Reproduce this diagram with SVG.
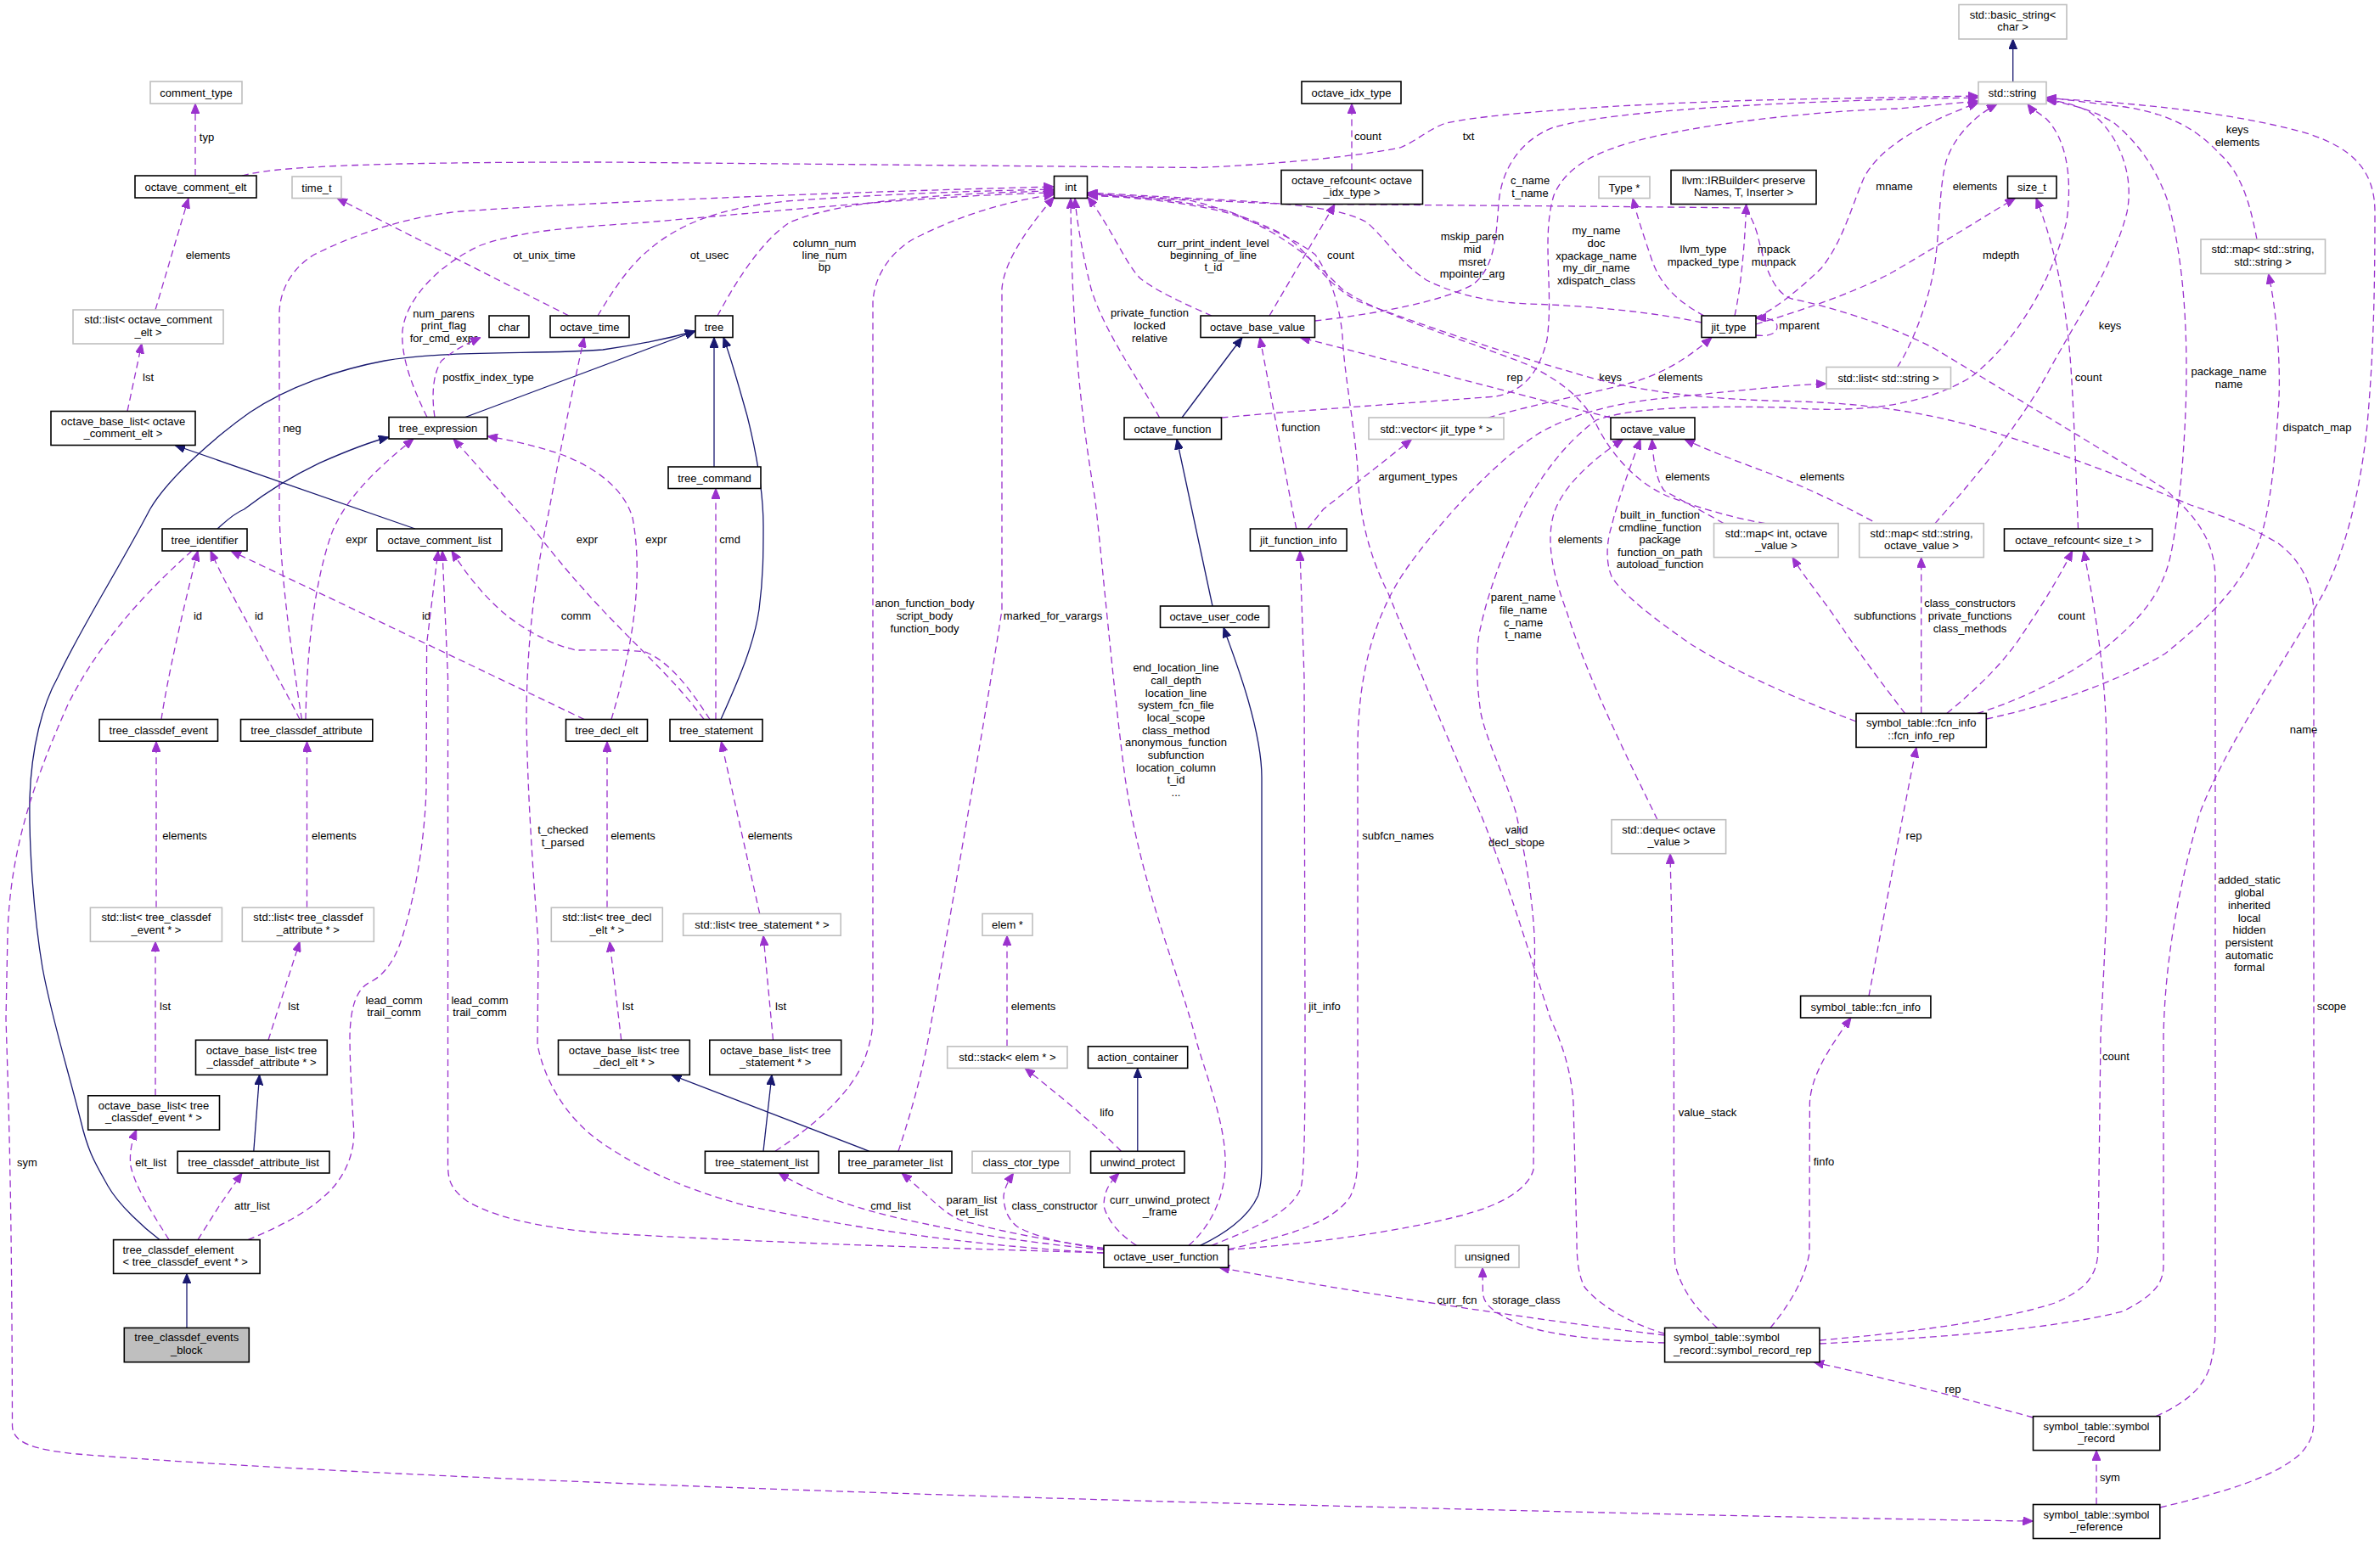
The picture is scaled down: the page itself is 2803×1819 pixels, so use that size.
<svg xmlns="http://www.w3.org/2000/svg" width="2803" height="1819" viewBox="0 0 2803 1819">
<style>
text{font-family:"Liberation Sans",Arial,sans-serif;font-size:13px;fill:#000}
.n rect{fill:#fff;stroke:#000;stroke-width:1.6}
.g rect{fill:#fff;stroke:#bfbfbf;stroke-width:1.6}
.n text,.g text{text-anchor:middle}
.lft text{text-anchor:start}
.d{fill:none;stroke:#9a32cd;stroke-width:1.3;stroke-dasharray:8,5;marker-end:url(#ap)}
.i{fill:none;stroke:#191970;stroke-width:1.3;marker-end:url(#ab)}
.l{text-anchor:middle}
</style>
<defs>
<marker id="ap" viewBox="0 0 12 10" refX="12" refY="5" markerWidth="12" markerHeight="10" markerUnits="userSpaceOnUse" orient="auto"><path d="M0,0 L12,5 L0,10 z" fill="#9a32cd" stroke="#9a32cd" stroke-width="1"/></marker>
<marker id="ab" viewBox="0 0 12 10" refX="12" refY="5" markerWidth="12" markerHeight="10" markerUnits="userSpaceOnUse" orient="auto"><path d="M0,0 L12,5 L0,10 z" fill="#191970" stroke="#191970" stroke-width="1"/></marker>
</defs>
<rect x="0" y="0" width="2803" height="1819" fill="#fff"/>
<g id="edges">
<!-- inheritance -->
<path class="i" d="M489,623 L206,524.5"/>
<path class="i" d="M548,491.5 L819,390"/>
<path class="i" d="M188,1460.6 C170,1447 140,1420 127,1397 C112,1370 104,1358 95,1320 C80,1260 61,1200 50,1140 C40,1080 34,1000 35,940 C37,880 50,830 68,798 C95,740 140,670 176.6,600 C200,560 260,510 294,486 C340,455 400,435 453,425 C530,412 640,418 710,412 C760,405 790,398 819,390"/>
<path class="i" d="M256,623 C265,615 275,605 287.5,600 C320,575 350,558 376,545.6 C400,535 430,522 458,515"/>
<path class="i" d="M841,550 L841,397.5"/>
<path class="i" d="M849,847.5 C870,800 888,760 894,718 C899,680 899,650 899,620 C899,580 890,530 880,490 C870,455 862,425 852,397.5"/>
<path class="i" d="M298.8,1356.3 L305.6,1266.3"/>
<path class="i" d="M220,1564.4 L220,1500.4"/>
<path class="i" d="M1392,492 L1463,397.5"/>
<path class="i" d="M1428,714 L1386,517.5"/>
<path class="i" d="M1413.6,1467.3 C1440,1455 1470,1435 1481.5,1409 C1486,1395 1486,1380 1486,1360 L1486,916 C1486,890 1480,860 1470,825 C1460,790 1450,765 1441,739.3"/>
<path class="i" d="M2370.7,96.5 L2370.7,46"/>
<path class="i" d="M1023.8,1356.3 L790.6,1266.3"/>
<path class="i" d="M899,1356.3 L909,1266.3"/>
<path class="i" d="M1339.8,1356.3 L1339.8,1258.4"/>
<!-- usage -->
<path class="d" d="M230,207 L230,122"/>
<text class="l" x="243.5" y="165.5">typ</text>
<path class="d" d="M285,207 C320,197 420,191 710,191 L1410,197.5 C1500,194 1600,184 1649,174 C1670,165 1680,154 1700,146 C1740,135 1900,122 2110,117 L2330,113"/>
<text class="l" x="1729.5" y="165">txt</text>
<path class="d" d="M183,365 L222,233.5"/>
<text class="l" x="245" y="305">elements</text>
<path class="d" d="M150,484.5 L167,404.5"/>
<text class="l" x="174.5" y="448.5">lst</text>
<path class="d" d="M670,372 L397,233.5"/>
<text class="l" x="641" y="305">ot_unix_time</text>
<path class="d" d="M704,372 C720,345 740,315 760,298 C800,262 850,245 926,237 C1050,228 1150,225 1241.5,223"/>
<text class="l" x="835.5" y="305">ot_usec</text>
<path class="d" d="M845,372 C865,335 895,285 930,262 C985,238 1100,228 1241.5,225"/>
<text class="l" x="971" y="291.2"><tspan x="971">column_num</tspan><tspan x="971" dy="14">line_num</tspan><tspan x="971" dy="14">bp</tspan></text>
<path class="d" d="M503,491.5 C485,455 472,420 474,390 C478,350 520,310 566,289 C620,270 680,268 760,262 C900,250 1100,230 1241.5,227"/>
<text class="l" x="522.5" y="373.5"><tspan x="522.5">num_parens</tspan><tspan x="522.5" dy="14.5">print_flag</tspan><tspan x="522.5" dy="14.5">for_cmd_expr</tspan></text>
<path class="d" d="M512,491.5 C508,465 510,440 520,425 C535,412 550,405 566,397.5"/>
<text class="l" x="575" y="449">postfix_index_type</text>
<path class="d" d="M843,847.5 L843,575.5"/>
<text class="l" x="859.6" y="640">cmd</text>
<path class="d" d="M829,847.5 C805,815 780,790 755,765 C720,730 680,690 630,625 L534,517"/>
<text class="l" x="691.5" y="640">expr</text>
<path class="d" d="M836,847.5 C815,815 790,780 760,768 C735,765 700,766 679,766 C650,760 610,740 580,710 C560,690 545,670 532,649"/>
<text class="l" x="678.5" y="730">comm</text>
<path class="d" d="M360,847.5 C361,790 366,700 390,630 C405,590 440,555 487,517"/>
<text class="l" x="420" y="640">expr</text>
<path class="d" d="M720,847.5 C740,780 760,690 745,610 C735,575 700,550 660,535 C630,525 600,518 574,514"/>
<text class="l" x="773" y="640">expr</text>
<path class="d" d="M190,847.5 C197,800 215,720 233,649"/>
<text class="l" x="233" y="730">id</text>
<path class="d" d="M353,847.5 C330,800 270,700 248,649"/>
<text class="l" x="305" y="730">id</text>
<path class="d" d="M688,847.5 C600,805 400,710 272,649"/>
<text class="l" x="502" y="730">id</text>
<path class="d" d="M226,649 C180,690 120,750 80,830 C40,920 12,1000 9,1100 L7,1200 C10,1300 14,1400 14.5,1680 C15,1700 40,1708 91,1713 C300,1730 700,1750 1410,1770 C1800,1780 2200,1790 2394.5,1792"/>
<text class="l" x="32" y="1373.5">sym</text>
<path class="d" d="M184,1069.3 L184,873.5"/>
<text class="l" x="217.5" y="989.2">elements</text>
<path class="d" d="M361.5,1069.3 L361.5,873.5"/>
<text class="l" x="393.4" y="989.2">elements</text>
<path class="d" d="M715,1069.3 L715,873.5"/>
<text class="l" x="745.5" y="989.2">elements</text>
<path class="d" d="M894.7,1076.5 L849.4,873.5"/>
<text class="l" x="907" y="989.2">elements</text>
<path class="d" d="M183,1290.8 L183,1109.3"/>
<text class="l" x="194.5" y="1189.5">lst</text>
<path class="d" d="M316,1225.3 L353,1109.3"/>
<text class="l" x="345.8" y="1189.5">lst</text>
<path class="d" d="M731.7,1225.3 L718,1109.3"/>
<text class="l" x="739.5" y="1189.5">lst</text>
<path class="d" d="M910.5,1225.3 L899,1102.2"/>
<text class="l" x="919.5" y="1189.5">lst</text>
<path class="d" d="M1186,1232.8 L1186,1102.2"/>
<text class="l" x="1217" y="1189.5">elements</text>
<path class="d" d="M199,1460.6 C180,1430 160,1400 154,1374 C152,1360 155,1345 160.7,1331"/>
<text class="l" x="177.7" y="1373.5">elt_list</text>
<path class="d" d="M233,1460.6 L258,1421 L285,1382"/>
<text class="l" x="297" y="1424.8">attr_list</text>
<path class="d" d="M292,1460.6 C330,1445 370,1425 394,1397 C412,1375 418,1350 416.6,1330 C414,1290 412,1250 412,1220 C413,1185 420,1165 436,1157 C455,1148 468,1125 475,1100 C490,1050 500,990 502,930 L502.6,758 L516,649"/>
<text class="l" x="464" y="1182.9"><tspan x="464">lead_comm</tspan><tspan x="464" dy="13.9">trail_comm</tspan></text>
<path class="d" d="M1300,1476 C1100,1470 926,1465 710,1452.7 C620,1445 575,1430 550,1415 C530,1400 527.5,1390 527.5,1370 L527.5,797.7 L521,649"/>
<text class="l" x="565" y="1182.9"><tspan x="565">lead_comm</tspan><tspan x="565" dy="13.9">trail_comm</tspan></text>
<path class="d" d="M355.4,847.5 C345,780 330,680 329,600 L329,367.7 C330,340 345,315 370,300 C420,275 480,255 543,249 C700,238 1000,226 1241.5,220"/>
<text class="l" x="344" y="508.5">neg</text>
<path class="d" d="M913,1356.3 C960,1325 1000,1290 1017,1251 C1025,1230 1028,1215 1028,1200 L1028,356 C1030,320 1055,290 1085,277 C1130,255 1180,238 1241.5,229"/>
<text class="l" x="1089" y="715.2"><tspan x="1089">anon_function_body</tspan><tspan x="1089" dy="15">script_body</tspan><tspan x="1089" dy="15">function_body</tspan></text>
<path class="d" d="M1058,1356.3 C1070,1320 1085,1270 1094,1220 C1110,1130 1160,850 1180,718.6 L1180,340 C1182,315 1200,280 1241.5,232"/>
<text class="l" x="1240" y="730.2">marked_for_varargs</text>
<path class="d" d="M1400,1467.3 C1420,1450 1440,1420 1443,1378 C1445,1330 1425,1280 1410,1230 C1390,1150 1345,1050 1325,916 C1310,800 1300,680 1290,590 C1275,500 1262,400 1261,233.5"/>
<text class="l" x="1385" y="791.1"><tspan x="1385">end_location_line</tspan><tspan x="1385" dy="14.7">call_depth</tspan><tspan x="1385" dy="14.7">location_line</tspan><tspan x="1385" dy="14.7">system_fcn_file</tspan><tspan x="1385" dy="14.7">local_scope</tspan><tspan x="1385" dy="14.7">class_method</tspan><tspan x="1385" dy="14.7">anonymous_function</tspan><tspan x="1385" dy="14.7">subfunction</tspan><tspan x="1385" dy="14.7">location_column</tspan><tspan x="1385" dy="14.7">t_id</tspan><tspan x="1385" dy="14.7">...</tspan></text>
<path class="d" d="M1365.6,492 C1340,445 1300,390 1285,340 C1275,300 1268,260 1266,233.5"/>
<text class="l" x="1354" y="373"><tspan x="1354">private_function</tspan><tspan x="1354" dy="14.8">locked</tspan><tspan x="1354" dy="14.8">relative</tspan></text>
<path class="d" d="M1427,372 C1400,360 1365,345 1343,328 C1325,310 1310,270 1281,232"/>
<text class="l" x="1429" y="291.2"><tspan x="1429">curr_print_indent_level</tspan><tspan x="1429" dy="14">beginning_of_line</tspan><tspan x="1429" dy="14">t_id</tspan></text>
<path class="d" d="M2004,380 C1950,368 1870,360 1800,358 C1750,356 1710,345 1680,330 C1650,310 1635,285 1610,262 C1580,245 1520,240 1450,236 L1281,227"/>
<text class="l" x="1734" y="283.3"><tspan x="1734">mskip_paren</tspan><tspan x="1734" dy="14.7">mid</tspan><tspan x="1734" dy="14.7">msret</tspan><tspan x="1734" dy="14.7">mpointer_arg</tspan></text>
<path class="d" d="M1526.8,623 L1522,600 L1483.8,397.5"/>
<text class="l" x="1532" y="507.8">function</text>
<path class="d" d="M1540,623 L1558.5,600 L1662.6,517.5"/>
<text class="l" x="1670" y="566">argument_types</text>
<path class="d" d="M1753,492 C1800,478 1880,462 1921,451 C1960,440 1990,420 2016,397.5"/>
<text class="l" x="1979" y="448.9">elements</text>
<path class="d" d="M1495,372 L1572,240.5"/>
<text class="l" x="1579" y="305">count</text>
<path class="d" d="M1592,200.5 L1592,122"/>
<text class="l" x="1611" y="165">count</text>
<path class="d" d="M1897,492 C1800,468 1650,428 1531,397.5"/>
<text class="l" x="1784" y="448.9">rep</text>
<path class="d" d="M1438.5,492 C1550,482 1700,472 1762,467 C1800,460 1815,430 1822,400 C1830,340 1815,280 1830,230 C1845,195 1880,180 1920,168 C2000,145 2150,130 2235,128 L2330,119"/>
<text class="l" x="1880" y="276.1"><tspan x="1880">my_name</tspan><tspan x="1880" dy="14.75">doc</tspan><tspan x="1880" dy="14.75">xpackage_name</tspan><tspan x="1880" dy="14.75">my_dir_name</tspan><tspan x="1880" dy="14.75">xdispatch_class</tspan></text>
<path class="d" d="M1548.5,378 C1620,370 1700,355 1735,335 C1760,315 1762,280 1765,240 C1768,200 1790,165 1830,150 C1900,130 2100,119 2330,115"/>
<text class="l" x="1802" y="217.2"><tspan x="1802">c_name</tspan><tspan x="1802" dy="14.3">t_name</tspan></text>
<path class="d" d="M2068,374 C2090,365 2120,340 2145,316 C2170,285 2180,245 2195,210 C2210,180 2250,150 2330,121"/>
<text class="l" x="2231" y="224.3">mname</text>
<path class="d" d="M2007,372 C1975,355 1955,335 1945,305 C1935,275 1928,255 1923,233.5"/>
<text class="l" x="2006" y="297.9"><tspan x="2006">llvm_type</tspan><tspan x="2006" dy="15">mpacked_type</tspan></text>
<path class="d" d="M2043,372 C2050,340 2055,290 2056.6,240.5"/>
<text class="l" x="2089" y="297.9"><tspan x="2089">mpack</tspan><tspan x="2089" dy="15">munpack</tspan></text>
<path class="d" d="M2068,395 C2085,397 2093,392 2093,385 C2093,378 2085,374 2068,375"/>
<text class="l" x="2119" y="388">mparent</text>
<path class="d" d="M2068,382 C2100,372 2180,348 2230,320 C2290,285 2345,250 2373.5,233.5"/>
<text class="l" x="2356.6" y="305">mdepth</text>
<path class="d" d="M2658,282 C2650,240 2640,205 2615,182 C2590,155 2560,135 2503,126 L2410,114.7"/>
<text class="l" x="2635" y="157.1"><tspan x="2635">keys</tspan><tspan x="2635" dy="15">elements</tspan></text>
<path class="d" d="M2339.4,847 C2420,830 2500,800 2550,770 C2600,730 2640,690 2660,640 C2675,600 2680,530 2684,470 C2686,420 2680,360 2671.6,322.5"/>
<text class="l" x="2729" y="507.8">dispatch_map</text>
<path class="d" d="M2186,850 C2120,825 2040,790 1990,758 C1950,730 1910,700 1898,679 C1890,660 1893,635 1898,620 C1905,590 1920,550 1932,517.5"/>
<text class="l" x="1955" y="611"><tspan x="1955">built_in_function</tspan><tspan x="1955" dy="14.5">cmdline_function</tspan><tspan x="1955" dy="14.5">package</tspan><tspan x="1955" dy="14.5">function_on_path</tspan><tspan x="1955" dy="14.5">autoload_function</tspan></text>
<path class="d" d="M1952,965.7 C1920,900 1870,800 1845,720 C1830,680 1820,640 1830,605 C1840,575 1870,545 1911.6,517.5"/>
<text class="l" x="1861" y="640.1">elements</text>
<path class="d" d="M2030,616.6 C2010,605 1985,592 1960,578 C1950,565 1947,540 1945.6,517.5"/>
<text class="l" x="1987.5" y="566">elements</text>
<path class="d" d="M2216.6,620 C2180,600 2130,575 2090,560 C2050,545 2010,530 1984,517.5"/>
<text class="l" x="2146" y="566">elements</text>
<path class="d" d="M2279,616.6 C2320,570 2380,500 2414,435 C2450,370 2490,310 2505,250 C2515,200 2490,150 2458,130 C2440,122 2420,118 2410,118"/>
<text class="l" x="2485" y="388">keys</text>
<path class="d" d="M2079,616.6 C2040,610 2000,598 1965,585 C1930,570 1900,540 1880,500 C1865,470 1840,450 1800,430 C1720,398 1620,370 1580,340 C1550,310 1520,280 1450,250 C1400,236 1320,230 1281,229"/>
<text class="l" x="1896.6" y="448.9">keys</text>
<path class="d" d="M1427,1467.3 C1470,1450 1520,1430 1532,1400 C1537,1380 1537,1300 1537,1200 L1536,798 L1531,649"/>
<text class="l" x="1560" y="1189.5">jit_info</text>
<path class="d" d="M1446.6,1472 C1520,1455 1570,1440 1590,1410 C1600,1390 1599,1370 1599,1340 L1599,877 C1600,790 1620,720 1660,665 C1700,610 1760,545 1810,512 C1850,488 1900,475 1960,469 C2030,462 2100,454 2151,452"/>
<text class="l" x="1646.6" y="989.2">subfcn_names</text>
<path class="d" d="M2234.5,432.5 C2250,410 2270,360 2278,316 C2285,270 2283,225 2292,190 C2300,165 2320,140 2352,122.5"/>
<text class="l" x="2326" y="224.3">elements</text>
<path class="d" d="M2447.5,623 C2445,560 2442,470 2438,420 C2432,350 2420,290 2398,233.5"/>
<text class="l" x="2459.6" y="448.9">count</text>
<path class="d" d="M2292.8,840.4 C2330,810 2360,780 2380,750 C2400,720 2420,690 2440.7,649"/>
<text class="l" x="2439.6" y="730.2">count</text>
<path class="d" d="M2243.5,840.4 C2220,810 2190,770 2170,740 C2150,710 2125,680 2111,656.6"/>
<text class="l" x="2220" y="730.2">subfunctions</text>
<path class="d" d="M2262.7,840.4 L2262.7,656.6"/>
<text class="l" x="2320" y="715.2"><tspan x="2320">class_constructors</tspan><tspan x="2320" dy="15">private_functions</tspan><tspan x="2320" dy="15">class_methods</tspan></text>
<path class="d" d="M2328.6,840.4 C2380,825 2440,795 2481,762 C2520,730 2545,700 2555,660 C2565,620 2575,520 2575,435 C2575,360 2568,290 2553,237 C2540,200 2520,170 2490,145 C2470,132 2440,122 2410,118"/>
<text class="l" x="2625" y="441.5"><tspan x="2625">package_name</tspan><tspan x="2625" dy="15">name</tspan></text>
<path class="d" d="M2201,1173.3 C2215,1100 2235,990 2257,880.4"/>
<text class="l" x="2254" y="989.2">rep</text>
<path class="d" d="M2085,1564.4 C2105,1540 2125,1510 2131,1476 L2131.4,1299 C2133,1270 2150,1240 2180,1199"/>
<text class="l" x="2148" y="1373.1">finfo</text>
<path class="d" d="M2022.6,1564.4 C2000,1545 1980,1520 1973,1490 C1971,1470 1971.4,1450 1971.4,1400 L1971.4,1200 L1967,1005.7"/>
<text class="l" x="2011" y="1315">value_stack</text>
<path class="d" d="M1960.6,1573 C1850,1560 1650,1532 1436,1493.3"/>
<text class="l" x="1716" y="1536.1">curr_fcn</text>
<path class="d" d="M1960.6,1582 C1900,1580 1830,1575 1790,1560 C1755,1545 1746,1535 1746.4,1520 L1746,1493.3"/>
<text class="l" x="1797.5" y="1536.1">storage_class</text>
<path class="d" d="M2394.5,1670 C2340,1655 2240,1628 2136,1604.7"/>
<text class="l" x="2300" y="1640.5">rep</text>
<path class="d" d="M2469,1772.5 L2469,1708.6"/>
<text class="l" x="2485" y="1744.5">sym</text>
<path class="d" d="M2143,1583 C2300,1575 2420,1565 2500,1545 C2540,1525 2548,1510 2548,1490 L2548,1220 C2550,1130 2565,1050 2590,960 C2620,880 2690,780 2730,710 C2760,660 2780,580 2788,500 C2795,420 2797,350 2797,250 C2797,200 2770,175 2720,158 C2660,140 2550,122 2410,116"/>
<text class="l" x="2713" y="864.3">name</text>
<path class="d" d="M2143,1579 C2250,1570 2360,1555 2420,1535 C2460,1518 2471,1500 2471,1470 L2474,1220 L2481,1074.5 L2481,877 C2480,800 2470,730 2454,649"/>
<text class="l" x="2492" y="1249.1">count</text>
<path class="d" d="M2543.8,1776 C2620,1758 2680,1740 2710,1712 C2722,1698 2725,1690 2725,1670 L2725,720 C2724,690 2710,660 2683,640 C2650,620 2610,605 2580,595 C2520,570 2420,530 2324,502 C2250,482 2180,474 2100,472.5 C2000,470 1920,460 1853,439 C1780,418 1680,385 1600,355 C1560,335 1545,300 1513,277 C1470,255 1420,240 1400,236 L1281,230"/>
<text class="l" x="2746" y="1189.5">scope</text>
<path class="d" d="M2539,1668.6 C2580,1650 2600,1630 2605,1600 C2608,1590 2609,1580 2609,1560 L2609,680 C2608,640 2590,610 2548,575 C2460,520 2360,460 2279,411 C2220,380 2150,360 2110,352 C2090,345 2080,320 2070,277 C2065,260 2060,250 2052,245 C1900,243 1700,242 1509,240 C1450,238 1400,235 1281,228"/>
<text class="l" x="2649" y="1041.4"><tspan x="2649">added_static</tspan><tspan x="2649" dy="14.7">global</tspan><tspan x="2649" dy="14.7">inherited</tspan><tspan x="2649" dy="14.7">local</tspan><tspan x="2649" dy="14.7">hidden</tspan><tspan x="2649" dy="14.7">persistent</tspan><tspan x="2649" dy="14.7">automatic</tspan><tspan x="2649" dy="14.7">formal</tspan></text>
<path class="d" d="M1960.6,1571 C1920,1560 1880,1535 1866,1516 C1858,1500 1857,1480 1857,1460 L1853,1299 C1850,1260 1840,1230 1826,1200 C1800,1120 1770,1020 1740,950 C1700,860 1660,760 1635,699 C1610,650 1600,600 1599,553 C1595,500 1583,440 1581,395 C1578,365 1570,330 1549,300 C1530,285 1500,270 1450,252 C1400,238 1330,232 1281,230"/>
<text class="l" x="1786" y="982.1"><tspan x="1786">valid</tspan><tspan x="1786" dy="15">decl_scope</tspan></text>
<path class="d" d="M1445,1472.4 C1550,1465 1650,1450 1717,1433 C1770,1420 1800,1400 1806,1378 L1807.5,1114 C1806,1060 1795,1000 1785,956 C1770,910 1750,870 1744,840 C1738,800 1738,760 1744,738 C1752,700 1770,650 1794,600 C1815,560 1845,520 1880,495 C1920,480 2000,478 2100,480 C2200,488 2270,475 2320,445 C2380,400 2420,320 2434,260 C2442,200 2430,160 2410,140 C2400,132 2392,128 2388,122.5"/>
<text class="l" x="1794" y="708.1"><tspan x="1794">parent_name</tspan><tspan x="1794" dy="14.7">file_name</tspan><tspan x="1794" dy="14.7">c_name</tspan><tspan x="1794" dy="14.7">t_name</tspan></text>
<path class="d" d="M1300,1476 C1150,1468 1017,1449 881,1421 C800,1400 740,1370 700,1340 C665,1313 640,1270 633,1230 L634,1114 C630,1050 622,960 620,850 C620,760 630,680 645,610 C658,540 672,470 688,397.5"/>
<text class="l" x="663" y="982.1"><tspan x="663">t_checked</tspan><tspan x="663" dy="15">t_parsed</tspan></text>
<path class="d" d="M1300,1472.4 C1230,1466 1150,1455 1085,1440.8 C1040,1432 1000,1420 971.7,1409 C950,1400 930,1390 917,1381.6"/>
<text class="l" x="1049" y="1424.8">cmd_list</text>
<path class="d" d="M1300,1470.4 C1250,1464 1180,1452 1130,1437 C1110,1428 1095,1410 1062,1382"/>
<text class="l" x="1144.5" y="1417.5"><tspan x="1144.5">param_list</tspan><tspan x="1144.5" dy="14.8">ret_list</tspan></text>
<path class="d" d="M1300,1471.6 C1260,1466 1220,1458 1198,1445 C1185,1435 1182,1420 1182,1409 C1183,1400 1187,1392 1193.6,1382"/>
<text class="l" x="1242" y="1424.8">class_constructor</text>
<path class="d" d="M1338.5,1467.3 C1320,1455 1305,1440 1300,1421 C1300,1405 1305,1395 1318,1382"/>
<text class="l" x="1366" y="1417.5"><tspan x="1366">curr_unwind_protect</tspan><tspan x="1366" dy="14.8">_frame</tspan></text>
<path class="d" d="M1320.4,1356.3 C1300,1335 1260,1300 1207,1258.4"/>
<text class="l" x="1303.5" y="1315">lifo</text>
</g>
<g id="n_comment_type" class="g"><rect x="177" y="96" width="108" height="26"/><text x="231" y="113.5">comment_type</text></g>
<g id="n_octave_comment_elt" class="n"><rect x="159" y="207" width="143" height="26"/><text x="230.5" y="224.5">octave_comment_elt</text></g>
<g id="n_time_t" class="g"><rect x="344" y="208" width="58" height="25.5"/><text x="373" y="225.5">time_t</text></g>
<g id="n_list_oce" class="g"><rect x="86" y="365" width="177" height="40"/><text x="174.5" y="381">std::list&lt; octave_comment</text><text x="174.5" y="395.5">_elt &gt;</text></g>
<g id="n_obl_oce" class="n"><rect x="60" y="484.5" width="170" height="40"/><text x="145" y="500.5">octave_base_list&lt; octave</text><text x="145" y="515">_comment_elt &gt;</text></g>
<g id="n_char" class="n"><rect x="576" y="372" width="47" height="25.5"/><text x="599.5" y="389.5">char</text></g>
<g id="n_octave_time" class="n"><rect x="648" y="372" width="93" height="25.5"/><text x="694.5" y="389.5">octave_time</text></g>
<g id="n_tree_expression" class="n"><rect x="458" y="491.5" width="116" height="25.5"/><text x="516" y="509">tree_expression</text></g>
<g id="n_tree" class="n"><rect x="819" y="372" width="44" height="25.5"/><text x="841" y="389.5">tree</text></g>
<g id="n_tree_command" class="n"><rect x="787" y="550" width="109" height="25.5"/><text x="841.5" y="567.5">tree_command</text></g>
<g id="n_int" class="n"><rect x="1241.5" y="207.5" width="39" height="26"/><text x="1261" y="225">int</text></g>
<g id="n_octave_function" class="n"><rect x="1324" y="492" width="114.5" height="25.5"/><text x="1381" y="509.5">octave_function</text></g>
<g id="n_octave_idx_type" class="n"><rect x="1533" y="96" width="117" height="26"/><text x="1591.5" y="113.5">octave_idx_type</text></g>
<g id="n_refcount_idx" class="n"><rect x="1509" y="200.5" width="166.5" height="40"/><text x="1592" y="216.5">octave_refcount&lt; octave</text><text x="1592" y="231">_idx_type &gt;</text></g>
<g id="n_type_ptr" class="g"><rect x="1883" y="208" width="60" height="25.5"/><text x="1913" y="225.5">Type *</text></g>
<g id="n_llvm_irbuilder" class="n"><rect x="1968" y="200.5" width="171" height="40"/><text x="2053.5" y="216.5">llvm::IRBuilder&lt; preserve</text><text x="2053.5" y="231">Names, T, Inserter &gt;</text></g>
<g id="n_octave_base_value" class="n"><rect x="1414" y="372" width="134.5" height="25.5"/><text x="1481" y="389.5">octave_base_value</text></g>
<g id="n_jit_type" class="n"><rect x="2004" y="372" width="64" height="25.5"/><text x="2036" y="389.5">jit_type</text></g>
<g id="n_vector_jit" class="g"><rect x="1612" y="492" width="159" height="25.5"/><text x="1691.5" y="509.5">std::vector&lt; jit_type * &gt;</text></g>
<g id="n_octave_value" class="n"><rect x="1897" y="492" width="99" height="25.5"/><text x="1946.5" y="509.5">octave_value</text></g>
<g id="n_basic_string" class="g"><rect x="2307" y="5.5" width="127" height="40.5"/><text x="2370.5" y="21.5">std::basic_string&lt;</text><text x="2370.5" y="36">char &gt;</text></g>
<g id="n_std_string" class="g"><rect x="2330" y="96.5" width="80" height="26"/><text x="2370" y="114">std::string</text></g>
<g id="n_size_t" class="n"><rect x="2364.5" y="207.5" width="57.5" height="26"/><text x="2393" y="225">size_t</text></g>
<g id="n_map_ss" class="g"><rect x="2592" y="282" width="146.5" height="40.5"/><text x="2665" y="298">std::map&lt; std::string,</text><text x="2665" y="312.5">std::string &gt;</text></g>
<g id="n_list_string" class="g"><rect x="2151" y="432.5" width="146.5" height="25.5"/><text x="2224" y="450">std::list&lt; std::string &gt;</text></g>
<g id="n_tree_identifier" class="n"><rect x="191" y="623" width="100" height="26"/><text x="241" y="640.5">tree_identifier</text></g>
<g id="n_octave_comment_list" class="n"><rect x="444" y="623" width="147" height="26"/><text x="517.5" y="640.5">octave_comment_list</text></g>
<g id="n_tree_classdef_event" class="n"><rect x="117" y="847.5" width="139.5" height="25.7"/><text x="186.7" y="865">tree_classdef_event</text></g>
<g id="n_tree_classdef_attribute" class="n"><rect x="283.5" y="847.5" width="155.3" height="25.7"/><text x="361" y="865">tree_classdef_attribute</text></g>
<g id="n_tree_decl_elt" class="n"><rect x="666.5" y="847.5" width="96" height="25.7"/><text x="714.5" y="865">tree_decl_elt</text></g>
<g id="n_list_tce" class="g"><rect x="106.4" y="1069.3" width="155" height="40"/><text x="184" y="1085.3">std::list&lt; tree_classdef</text><text x="184" y="1099.8">_event * &gt;</text></g>
<g id="n_list_tca" class="g"><rect x="285.3" y="1069.3" width="155" height="40"/><text x="362.8" y="1085.3">std::list&lt; tree_classdef</text><text x="362.8" y="1099.8">_attribute * &gt;</text></g>
<g id="n_list_tde" class="g"><rect x="649.3" y="1069.3" width="131" height="40"/><text x="714.8" y="1085.3">std::list&lt; tree_decl</text><text x="714.8" y="1099.8">_elt * &gt;</text></g>
<g id="n_tree_statement" class="n"><rect x="789" y="847.5" width="109" height="25.7"/><text x="843.5" y="865">tree_statement</text></g>
<g id="n_list_ts" class="g"><rect x="804.6" y="1076.5" width="185.6" height="25.7"/><text x="897.4" y="1094">std::list&lt; tree_statement * &gt;</text></g>
<g id="n_elem_ptr" class="g"><rect x="1157" y="1076.5" width="59" height="25.7"/><text x="1186.5" y="1094">elem *</text></g>
<g id="n_octave_user_code" class="n"><rect x="1366.5" y="714" width="128" height="25.3"/><text x="1430.5" y="731.3">octave_user_code</text></g>
<g id="n_jit_function_info" class="n"><rect x="1472.4" y="623" width="113.7" height="26"/><text x="1529.2" y="640.5">jit_function_info</text></g>
<g id="n_map_int_ov" class="g"><rect x="2018.5" y="616.6" width="146.5" height="40"/><text x="2091.8" y="632.6">std::map&lt; int, octave</text><text x="2091.8" y="647.1">_value &gt;</text></g>
<g id="n_deque_ov" class="g"><rect x="1898" y="965.7" width="134.6" height="40"/><text x="1965.3" y="981.7">std::deque&lt; octave</text><text x="1965.3" y="996.2">_value &gt;</text></g>
<g id="n_map_s_ov" class="g"><rect x="2189.7" y="616.6" width="146.6" height="40"/><text x="2263" y="632.6">std::map&lt; std::string,</text><text x="2263" y="647.1">octave_value &gt;</text></g>
<g id="n_refcount_size_t" class="n"><rect x="2360.5" y="623" width="174.4" height="26"/><text x="2447.7" y="640.5">octave_refcount&lt; size_t &gt;</text></g>
<g id="n_fcn_info_rep" class="n"><rect x="2186" y="840.4" width="153.3" height="40"/><text x="2262.7" y="856.4">symbol_table::fcn_info</text><text x="2262.7" y="870.9">::fcn_info_rep</text></g>
<g id="n_fcn_info" class="n"><rect x="2120.6" y="1173.3" width="153.3" height="25.7"/><text x="2197.3" y="1190.8">symbol_table::fcn_info</text></g>
<g id="n_obl_tca" class="n"><rect x="230.5" y="1225.3" width="154.8" height="41"/><text x="308" y="1241.5">octave_base_list&lt; tree</text><text x="308" y="1256">_classdef_attribute * &gt;</text></g>
<g id="n_obl_tce" class="n"><rect x="103.7" y="1290.8" width="154.8" height="40.3"/><text x="181" y="1306.8">octave_base_list&lt; tree</text><text x="181" y="1321.3">_classdef_event * &gt;</text></g>
<g id="n_tree_classdef_attribute_list" class="n"><rect x="209.2" y="1356.3" width="178.8" height="25.7"/><text x="298.6" y="1373.8">tree_classdef_attribute_list</text></g>
<g id="n_tree_classdef_element" class="n lft"><rect x="133.6" y="1460.6" width="172.5" height="39.8"/><text x="144.5" y="1476.6">tree_classdef_element</text><text x="144.5" y="1491.1">&lt; tree_classdef_event * &gt;</text></g>
<g id="n_tree_classdef_events_block" class="n"><rect x="146.3" y="1564.4" width="147" height="40.3" style="fill:#bfbfbf"/><text x="219.8" y="1580.4">tree_classdef_events</text><text x="219.8" y="1594.9">_block</text></g>
<g id="n_obl_tde" class="n"><rect x="657.5" y="1225.3" width="154.8" height="41"/><text x="735" y="1241.5">octave_base_list&lt; tree</text><text x="735" y="1256">_decl_elt * &gt;</text></g>
<g id="n_obl_ts" class="n"><rect x="835.8" y="1225.3" width="154.9" height="41"/><text x="913.2" y="1241.5">octave_base_list&lt; tree</text><text x="913.2" y="1256">_statement * &gt;</text></g>
<g id="n_stack_elem" class="g"><rect x="1115.7" y="1232.8" width="141.3" height="25.6"/><text x="1186.4" y="1250.3">std::stack&lt; elem * &gt;</text></g>
<g id="n_action_container" class="n"><rect x="1281.4" y="1232.8" width="117.3" height="25.6"/><text x="1340" y="1250.3">action_container</text></g>
<g id="n_tree_statement_list" class="n"><rect x="830.4" y="1356.3" width="133.6" height="25.7"/><text x="897.2" y="1373.8">tree_statement_list</text></g>
<g id="n_tree_parameter_list" class="n"><rect x="988" y="1356.3" width="133" height="25.7"/><text x="1054.5" y="1373.8">tree_parameter_list</text></g>
<g id="n_class_ctor_type" class="g"><rect x="1145" y="1356.3" width="115" height="25.7"/><text x="1202.5" y="1373.8">class_ctor_type</text></g>
<g id="n_unwind_protect" class="n"><rect x="1284.6" y="1356.3" width="110.4" height="25.7"/><text x="1339.8" y="1373.8">unwind_protect</text></g>
<g id="n_octave_user_function" class="n"><rect x="1300" y="1467.3" width="146.6" height="26"/><text x="1373.3" y="1484.8">octave_user_function</text></g>
<g id="n_unsigned" class="g"><rect x="1714" y="1467.3" width="75" height="26"/><text x="1751.5" y="1484.8">unsigned</text></g>
<g id="n_symbol_record_rep" class="n lft"><rect x="1960.6" y="1564.4" width="182.4" height="40.3"/><text x="1971" y="1580.4">symbol_table::symbol</text><text x="1971" y="1594.9">_record::symbol_record_rep</text></g>
<g id="n_symbol_record" class="n"><rect x="2394.5" y="1668.6" width="149.3" height="40"/><text x="2469" y="1684.6">symbol_table::symbol</text><text x="2469" y="1699.1">_record</text></g>
<g id="n_symbol_reference" class="n"><rect x="2394.5" y="1772.5" width="149.3" height="40"/><text x="2469" y="1788.5">symbol_table::symbol</text><text x="2469" y="1803">_reference</text></g>
</svg>
